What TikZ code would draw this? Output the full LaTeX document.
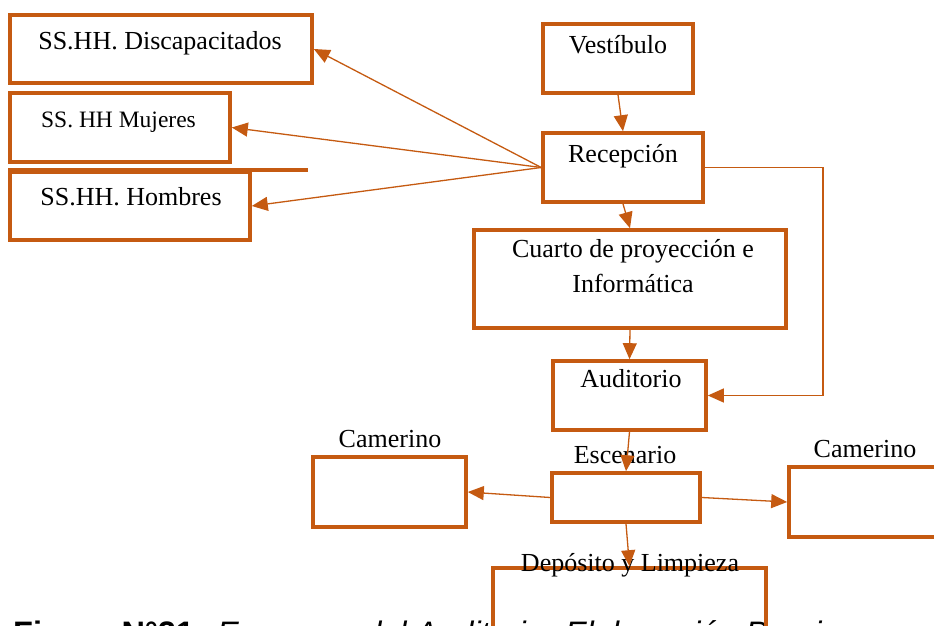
\documentclass[tikz,border=0pt]{standalone}
\usepackage{fontspec}
\setmainfont{Liberation Serif}
\newfontfamily\capfont{Liberation Sans}
\usetikzlibrary{arrows.meta}
\definecolor{boxor}{RGB}{197,90,17}
\begin{document}
\begin{tikzpicture}[x=1pt,y=-1pt,
  box/.style n args={2}{draw=boxor,line width=3.6pt,minimum width=#1,minimum height=#2,inner sep=0pt,rectangle},
  lbl/.style={anchor=base,inner sep=0pt,font=\fontsize{26}{31}\selectfont},
  conn/.style={draw=boxor,line width=1.3pt,-{Triangle[length=16pt,width=14pt]}},
  thinconn/.style={draw=boxor,line width=1.2pt,-{Triangle[length=16pt,width=14pt]}}]
\useasboundingbox (0,0) rectangle (934,626);

% caption (partly cut by the page edge)
\node[anchor=base west,inner sep=0pt,font=\capfont\fontsize{32.5}{39}\selectfont] (cap) at (13,644)
  {\textbf{Figura N°21:} \textit{Esquema del Auditorio. Elaboración Propia}};

% boxes
\node[box={302pt}{68pt}] (disc) at (161,49) {};
\node[box={220pt}{69pt}] (muj) at (120,127.5) {};
\node[box={240pt}{68pt}] (hom) at (130,206) {};
\draw[draw=boxor,line width=3.6pt] (hom.north west) -- ++(300,0);
\node[box={150pt}{69pt}] (vest) at (618,58.5) {};
\node[box={160pt}{69pt}] (rec) at (623,167.5) {};
\node[box={312pt}{98pt}] (cua) at (630,279) {};
\node[box={153pt}{69pt}] (aud) at (629.5,395.5) {};
\node[box={148pt}{49pt}] (esc) at (626,497.5) {};
\node[box={153pt}{70pt}] (cam1) at (389.5,492) {};
\node[box={171pt}{70pt}] (cam2) at (874.5,502) {};
\node[box={273pt}{132pt}] (dep) at (629.5,634) {};

% texts
\node[lbl] (tdisc) at (160,50) {SS.HH. Discapacitados};
\node[lbl,font=\fontsize{23.5}{28}\selectfont] (tmuj) at (118.5,127) {SS. HH Mujeres};
\node[lbl] (thom) at (131,205) {SS.HH. Hombres};
\node[lbl] (tvest) at (618,53) {Vestíbulo};
\node[lbl] (trec) at (623,162) {Recepción};
\node[lbl] (tcua1) at (633,257) {Cuarto de proyección e};
\node[lbl] (tcua2) at (633,292) {Informática};
\node[lbl] (taud) at (631,387) {Auditorio};
\node[lbl] (tesc) at (625,463) {Escenario};
\node[lbl] (tcam1) at (390,447) {Camerino};
\node[lbl] (tcam2) at (865,457) {Camerino};
\node[lbl] (tdep) at (630,571) {Depósito y Limpieza};

% connectors
\coordinate (elbx) at (823,0);
\draw[conn] (vest.south) -- (rec.north);
\draw[conn] (rec.south) -- (cua.north);
\draw[conn] (cua.south) -- (aud.north);
\draw[conn] (aud.south) -- (esc.north);
\draw[conn] (esc.south) -- (dep.north);
\draw[conn] (esc.west) -- (cam1.east);
\draw[conn] (esc.east) -- (cam2.west);
\draw[conn] (rec.west) -- (disc.east);
\draw[conn] (rec.west) -- (muj.east);
\draw[conn] (rec.west) -- (hom.east);
\draw[thinconn] (rec.east) -| (elbx |- aud.east) -- (aud.east);
\end{tikzpicture}
\end{document}
